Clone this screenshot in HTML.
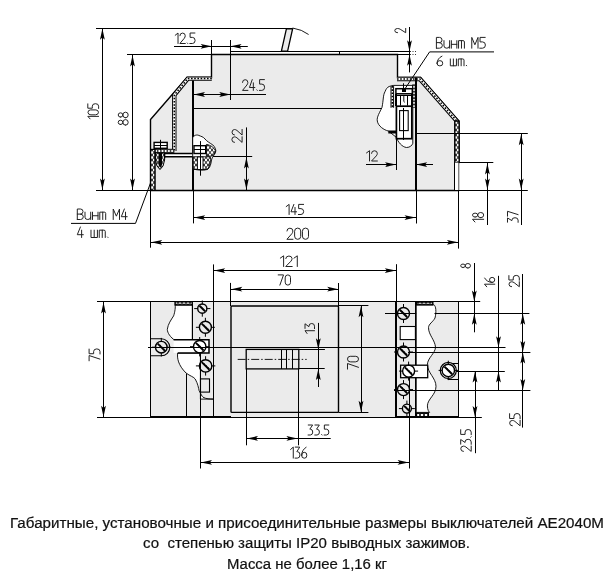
<!DOCTYPE html>
<html><head><meta charset="utf-8"><style>
html,body{margin:0;padding:0;background:#fff;width:613px;height:575px;overflow:hidden}
svg{display:block;will-change:transform}
.g{font-family:"Liberation Sans",sans-serif;fill:#222;stroke:none}
.c{font-family:"Liberation Sans",sans-serif;fill:#111;stroke:#111;stroke-width:0.2}
</style></head><body>
<svg width="613" height="575" viewBox="0 0 613 575" stroke="#000" shape-rendering="auto">
<defs><pattern id="xh" width="4" height="5" patternUnits="userSpaceOnUse"><path d="M0,0 L4,5 M4,0 L0,5" stroke="#000" stroke-width="0.85"/></pattern></defs>
<polygon points="150.5,190.5 150.5,119.5 187,77.5 211.5,77.5 211.5,54.5 397.5,54.5 397.5,77.5 420.5,77.5 458.5,120.5 458.5,190.5" stroke-width="1.4" fill="#ebebeb" stroke="#000" stroke-linejoin="miter"/>
<polygon points="281.4,51.2 287.6,51.2 292.6,28.9 286.4,28.9" stroke-width="1.3" fill="#ebebeb" stroke="#000"/>
<path d="M292.6,28 Q302,29.5 308.6,34.5" stroke-width="0.9" fill="none" />
<line x1="96" y1="28.5" x2="292.6" y2="28.5" stroke-width="1" />
<line x1="127" y1="54.5" x2="211.8" y2="54.5" stroke-width="1" />
<line x1="230.4" y1="51.5" x2="409.6" y2="51.5" stroke-width="1" />
<line x1="339.5" y1="51.5" x2="339.5" y2="54.7" stroke-width="1" />
<polyline points="211.8,78.6 187.8,78.6 174.3,95 174.3,151" stroke-width="4.4" fill="none" stroke="#000" stroke-linejoin="miter"/>
<polyline points="211.8,78.6 187.8,78.6 174.3,95 174.3,151" stroke-width="2.4" fill="none" stroke="#fff" stroke-linejoin="miter"/>
<polyline points="211.8,78.6 187.8,78.6 174.3,95 174.3,151" stroke-width="1.5" fill="none" stroke="#000" stroke-dasharray="1.6,1.6"/>
<polyline points="150.5,151 174.3,151" stroke-width="4.4" fill="none" stroke="#000" stroke-linejoin="miter"/>
<polyline points="150.5,151 174.3,151" stroke-width="2.4" fill="none" stroke="#fff" stroke-linejoin="miter"/>
<polyline points="150.5,151 174.3,151" stroke-width="1.5" fill="none" stroke="#000" stroke-dasharray="1.6,1.6"/>
<rect x="150.6" y="149.5" width="4.4" height="40.8" stroke-width="1.0" fill="#fff" />
<rect x="150.6" y="149.5" width="4.4" height="40.8" fill="url(#xh)" stroke="#000" stroke-width="1"/>
<polyline points="397,79.0 419.9,79.0 456.8,121.0 456.8,162.6" stroke-width="4.4" fill="none" stroke="#000" stroke-linejoin="miter"/>
<polyline points="397,79.0 419.9,79.0 456.8,121.0 456.8,162.6" stroke-width="2.4" fill="none" stroke="#fff" stroke-linejoin="miter"/>
<polyline points="397,79.0 419.9,79.0 456.8,121.0 456.8,162.6" stroke-width="1.5" fill="none" stroke="#000" stroke-dasharray="1.6,1.6"/>
<rect x="454.8" y="121" width="4.4" height="41.6" stroke-width="1.0" fill="#fff" />
<rect x="454.8" y="121" width="4.4" height="41.6" fill="url(#xh)" stroke="#000" stroke-width="1"/>
<rect x="455" y="162.6" width="3.5" height="27.7" stroke-width="0" fill="#fff" />
<line x1="454.5" y1="162.6" x2="454.5" y2="190.3" stroke-width="1" />
<line x1="193.0" y1="80.5" x2="193.0" y2="190.3" stroke-width="2" />
<line x1="193.5" y1="190.3" x2="193.5" y2="223.4" stroke-width="1" />
<line x1="416.0" y1="77.5" x2="416.0" y2="190.3" stroke-width="2" />
<line x1="416.5" y1="190.3" x2="416.5" y2="223.5" stroke-width="1" />
<line x1="193.2" y1="108.5" x2="382" y2="108.5" stroke-width="1" />
<line x1="416" y1="133.5" x2="527.8" y2="133.5" stroke-width="1" />
<line x1="459" y1="162.5" x2="493.3" y2="162.5" stroke-width="1" />
<line x1="96" y1="190.5" x2="527.8" y2="190.5" stroke-width="1" />
<path d="M164.6,158.2 L164.6,153.5 L207.7,153.5 L207.7,156.8 L164.6,156.8" stroke-width="1.3" fill="#fff" />
<line x1="164.6" y1="156.5" x2="252.2" y2="156.5" stroke-width="1" />
<path d="M155.4,152.8 L164.6,152.8 L164.6,160 L163,166 L160,169.5 L157,166 L155.4,160 Z" fill="url(#xh)" stroke="#000" stroke-width="1"/>
<path d="M158.6,153 L162,153 L162,165 L160.3,168 L158.6,165 Z" stroke-width="0" fill="#000" />
<rect x="154.1" y="142.4" width="13.1" height="5.9" stroke-width="1.4" fill="#fff" />
<line x1="154.1" y1="145.5" x2="167.2" y2="145.5" stroke-width="1" />
<line x1="160.5" y1="139.8" x2="160.5" y2="150" stroke-width="1" />
<path d="M192.7,137.8 C194,135 197,134.5 199,135.5 C201,136.5 203,136.5 205,139 C207,141.5 210,143 212.9,145 C215,147 216.5,150 215.5,152.5 C214.5,155 212,157 211.5,160 C211,164 210,168 207.7,169.2 C205,170.5 200,170 192.7,169.2 Z" stroke-width="0.9" fill="#fff" />
<path d="M206.4,144.4 C210,145 214,147 215.5,150.9 C215,154 213,156 211,156.1 L206.4,156.1 Z" fill="url(#xh)" stroke="#000" stroke-width="0.9"/>
<path d="M193.2,156.8 L210.3,156.8 C211,160 210,166 207.7,169.2 C204,170 198,170 193.2,169.2 Z" fill="url(#xh)" stroke="#000" stroke-width="0.9"/>
<rect x="197.4" y="157" width="5.6" height="12.5" stroke-width="0.9" fill="#fff" />
<rect x="194" y="145.7" width="11.7" height="7.8" stroke-width="1.4" fill="#fff" />
<line x1="194" y1="149.5" x2="205.7" y2="149.5" stroke-width="1" />
<line x1="200.5" y1="141.1" x2="200.5" y2="175.7" stroke-width="1" />
<path d="M385,91.7 C386,89 387.5,87 389.2,86.5 C391,85.8 393,85.4 394,85.4 L412.8,85.4 L412.8,143.3 C412,145.5 410,147.5 406.5,147.5 C402,147 398,142 396.2,137.2 L388.3,131 C384,130 378,126 377.3,121 C376.5,117 380,112 382,107.4 C383.5,100 383,95 385,91.7 Z" stroke-width="0.9" fill="#fff" />
<polyline points="392.3,86.1 392.3,107.7" stroke-width="3.6" fill="none" stroke="#000" stroke-linejoin="miter"/>
<polyline points="392.3,86.1 392.3,107.7" stroke-width="1.6" fill="none" stroke="#fff" stroke-linejoin="miter"/>
<polyline points="392.3,86.1 392.3,107.7" stroke-width="1.5" fill="none" stroke="#000" stroke-dasharray="1.6,1.6"/>
<polyline points="414,84.5 414,107.7" stroke-width="3.6" fill="none" stroke="#000" stroke-linejoin="miter"/>
<polyline points="414,84.5 414,107.7" stroke-width="1.6" fill="none" stroke="#fff" stroke-linejoin="miter"/>
<polyline points="414,84.5 414,107.7" stroke-width="1.5" fill="none" stroke="#000" stroke-dasharray="1.6,1.6"/>
<rect x="395.9" y="88.7" width="16.4" height="5.1" stroke-width="1.5" fill="#fff" />
<rect x="402" y="88.6" width="4" height="3.4" stroke-width="0" fill="#000" />
<line x1="403.5" y1="83.3" x2="403.5" y2="88.6" stroke-width="1" />
<line x1="396.0" y1="94" x2="396.0" y2="106" stroke-width="2" />
<line x1="412.0" y1="94" x2="412.0" y2="106" stroke-width="2" />
<line x1="400.5" y1="95" x2="400.5" y2="105.6" stroke-width="1" />
<line x1="407.5" y1="95" x2="407.5" y2="105.6" stroke-width="1" />
<path d="M403.8,95.5 L403.8,101.5 L404.8,102.3" stroke-width="0.9" fill="none" />
<line x1="395.4" y1="95.5" x2="412.8" y2="95.5" stroke-width="1" />
<rect x="396.4" y="106.2" width="15.4" height="32.5" stroke-width="1.7" fill="#fff" />
<rect x="399.6" y="110.6" width="8.6" height="20" stroke-width="1.1" fill="none" />
<line x1="403.5" y1="108" x2="403.5" y2="140" stroke-width="1" />
<rect x="388.3" y="130.5" width="7.9" height="3" stroke-width="0" fill="#000" />
<line x1="396.5" y1="138.7" x2="396.5" y2="170" stroke-width="1" />
<line x1="102.5" y1="28" x2="102.5" y2="190.3" stroke-width="1" />
<polygon points="102.40,28.60 100.00,39.80 102.40,37.60 104.80,39.80" fill="#000" stroke="none"/>
<polygon points="102.40,189.70 100.00,178.50 102.40,180.70 104.80,178.50" fill="#000" stroke="none"/>
<path transform="translate(98.60,118.90) rotate(-90)" d="M 0.00,-8.46 L 2.54,-10.80 L 2.54,0.00 M 4.08,-8.10 A 2.46,2.70 0 0 1 8.99,-8.10 L 8.99,-2.70 A 2.46,2.70 0 0 1 4.08,-2.70 Z M 15.04,-10.80 L 10.69,-10.80 L 10.69,-6.30 L 12.74,-6.30 A 2.46,3.15 0 0 1 12.74,0.00 L 10.45,0.00" fill="none" stroke="#222" stroke-width="1.0" stroke-linecap="round" stroke-linejoin="round"/>
<line x1="132.5" y1="54.7" x2="132.5" y2="190.3" stroke-width="1" />
<polygon points="132.50,55.30 130.10,66.50 132.50,64.30 134.90,66.50" fill="#000" stroke="none"/>
<polygon points="132.50,189.70 130.10,178.50 132.50,180.70 134.90,178.50" fill="#000" stroke="none"/>
<path transform="translate(128.20,125.20) rotate(-90)" d="M 0.65,-7.67 A 2.15,2.33 0 1 0 4.95,-7.67 A 2.15,2.33 0 1 0 0.65,-7.67 M 0.00,-2.67 A 2.80,2.67 0 1 0 5.60,-2.67 A 2.80,2.67 0 1 0 0.00,-2.67 M 8.05,-7.67 A 2.15,2.33 0 1 0 12.35,-7.67 A 2.15,2.33 0 1 0 8.05,-7.67 M 7.40,-2.67 A 2.80,2.67 0 1 0 13.00,-2.67 A 2.80,2.67 0 1 0 7.40,-2.67" fill="none" stroke="#222" stroke-width="1.0" stroke-linecap="round" stroke-linejoin="round"/>
<line x1="211.5" y1="40" x2="211.5" y2="77" stroke-width="1" />
<line x1="230.5" y1="40" x2="230.5" y2="100" stroke-width="1" />
<line x1="174" y1="46.5" x2="247.8" y2="46.5" stroke-width="1" />
<polygon points="211.80,46.30 200.60,43.90 202.80,46.30 200.60,48.70" fill="#000" stroke="none"/>
<polygon points="230.40,46.30 241.60,43.90 239.40,46.30 241.60,48.70" fill="#000" stroke="none"/>
<path transform="translate(175.20,43.50)" d="M 0.00,-8.22 L 2.82,-10.50 L 2.82,0.00 M 4.66,-7.79 A 2.68,2.62 0 0 1 10.03,-7.79 Q 10.03,-6.48 9.12,-5.25 L 4.66,0.00 L 10.12,0.00 M 12.05,-0.52 L 12.51,0.00 M 19.72,-10.50 L 14.90,-10.50 L 14.90,-6.12 L 17.17,-6.12 A 2.73,3.06 0 0 1 17.17,0.00 L 14.63,0.00" fill="none" stroke="#222" stroke-width="1.0" stroke-linecap="round" stroke-linejoin="round"/>
<line x1="193.2" y1="94.5" x2="266" y2="94.5" stroke-width="1" />
<polygon points="193.80,94.50 205.00,92.10 202.80,94.50 205.00,96.90" fill="#000" stroke="none"/>
<polygon points="230.40,94.50 219.20,92.10 221.40,94.50 219.20,96.90" fill="#000" stroke="none"/>
<path transform="translate(242.40,90.40)" d="M 0.09,-8.01 A 2.67,2.70 0 0 1 5.43,-8.01 Q 5.43,-6.66 4.52,-5.40 L 0.09,0.00 L 5.52,0.00 M 9.84,-10.80 L 7.04,-2.88 L 12.47,-2.88 M 10.93,-7.56 L 10.93,0.00 M 14.44,-0.54 L 14.89,0.00 M 22.02,-10.80 L 17.22,-10.80 L 17.22,-6.30 L 19.49,-6.30 A 2.71,3.15 0 0 1 19.49,0.00 L 16.95,0.00" fill="none" stroke="#222" stroke-width="1.0" stroke-linecap="round" stroke-linejoin="round"/>
<line x1="409.5" y1="27" x2="409.5" y2="72.4" stroke-width="1" />
<polygon points="409.50,51.50 407.10,40.30 409.50,42.50 411.90,40.30" fill="#000" stroke="none"/>
<polygon points="409.50,54.50 407.10,65.70 409.50,63.50 411.90,65.70" fill="#000" stroke="none"/>
<line x1="397.5" y1="54.5" x2="410" y2="54.5" stroke-width="1" />
<line x1="410" y1="51.5" x2="416" y2="51.5" stroke-width="0.8" stroke-dasharray="1,1.5"/>
<line x1="410" y1="54.5" x2="416" y2="54.5" stroke-width="0.8" stroke-dasharray="1,1.5"/>
<path transform="translate(405.70,32.80) rotate(-90)" d="M 0.07,-8.16 A 2.11,2.75 0 0 1 4.30,-8.16 Q 4.30,-6.78 3.58,-5.50 L 0.07,0.00 L 4.37,0.00" fill="none" stroke="#222" stroke-width="1.0" stroke-linecap="round" stroke-linejoin="round"/>
<polyline points="404.3,89.8 429.6,51.9 494,51.9" stroke-width="1" fill="none" />
<path transform="translate(436.40,48.20)" d="M 0.00,0.00 L 0.00,-10.80 L 3.12,-10.80 A 2.53,2.61 0 0 1 3.12,-5.58 L 0.00,-5.58 M 3.12,-5.58 A 2.83,2.79 0 0 1 3.12,0.00 L 0.00,0.00 M 7.58,-7.56 L 7.58,-2.34 A 2.83,2.34 0 0 0 13.24,-2.34 M 13.24,-7.56 L 13.24,0.00 M 14.97,-7.56 L 14.97,0.00 M 20.43,-7.56 L 20.43,0.00 M 14.97,-3.87 L 20.43,-3.87 M 22.16,0.00 L 22.16,-7.56 L 26.64,-7.56 Q 28.01,-7.56 28.01,-6.30 L 28.01,0.00 M 25.08,-7.56 L 25.08,0.00 M 35.37,0.00 L 35.37,-10.80 L 38.49,-3.42 L 41.61,-10.80 L 41.61,0.00 M 48.81,-10.80 L 43.64,-10.80 L 43.64,-6.30 L 46.08,-6.30 A 2.92,3.15 0 0 1 46.08,0.00 L 43.35,0.00" fill="none" stroke="#222" stroke-width="1.0" stroke-linecap="round" stroke-linejoin="round"/>
<path transform="translate(436.90,65.80)" d="M 5.04,-9.64 Q 0.38,-7.51 0.10,-2.61 M 0.10,-2.53 A 2.86,2.49 0 1 0 5.81,-2.53 A 2.86,2.49 0 1 0 0.10,-2.53 M 13.44,-6.86 L 13.44,0.00 L 19.53,0.00 L 19.53,-6.86 M 16.48,-6.86 L 16.48,0.00 M 21.39,0.00 L 21.39,-6.86 L 25.77,-6.86 Q 27.10,-6.86 27.10,-5.72 L 27.10,0.00 M 24.25,-6.86 L 24.25,0.00 M 29.35,-0.49 L 29.82,0.00" fill="none" stroke="#222" stroke-width="1.0" stroke-linecap="round" stroke-linejoin="round"/>
<line x1="366" y1="164.5" x2="396.2" y2="164.5" stroke-width="1" />
<polygon points="396.20,164.60 385.00,162.20 387.20,164.60 385.00,167.00" fill="#000" stroke="none"/>
<line x1="416" y1="164.5" x2="433" y2="164.5" stroke-width="1" />
<polygon points="416.00,164.60 427.20,162.20 425.00,164.60 427.20,167.00" fill="#000" stroke="none"/>
<path transform="translate(366.50,161.00)" d="M 0.00,-8.07 L 3.03,-10.30 L 3.03,0.00 M 5.04,-7.64 A 2.88,2.58 0 0 1 10.80,-7.64 Q 10.80,-6.35 9.82,-5.15 L 5.04,0.00 L 10.90,0.00" fill="none" stroke="#222" stroke-width="1.0" stroke-linecap="round" stroke-linejoin="round"/>
<line x1="246.5" y1="127.4" x2="246.5" y2="190.3" stroke-width="1" />
<polygon points="246.40,157.20 244.00,168.40 246.40,166.20 248.80,168.40" fill="#000" stroke="none"/>
<polygon points="246.40,189.80 244.00,178.60 246.40,180.80 248.80,178.60" fill="#000" stroke="none"/>
<path transform="translate(242.10,142.50) rotate(-90)" d="M 0.09,-7.64 A 2.77,2.58 0 0 1 5.63,-7.64 Q 5.63,-6.35 4.69,-5.15 L 0.09,0.00 L 5.72,0.00 M 7.47,-7.64 A 2.77,2.58 0 0 1 13.00,-7.64 Q 13.00,-6.35 12.06,-5.15 L 7.47,0.00 L 13.09,0.00" fill="none" stroke="#222" stroke-width="1.0" stroke-linecap="round" stroke-linejoin="round"/>
<line x1="521.5" y1="133.4" x2="521.5" y2="225" stroke-width="1" />
<polygon points="521.20,134.00 518.80,145.20 521.20,143.00 523.60,145.20" fill="#000" stroke="none"/>
<polygon points="521.20,189.80 518.80,178.60 521.20,180.80 523.60,178.60" fill="#000" stroke="none"/>
<path transform="translate(518.10,222.50) rotate(-90)" d="M 0.32,-10.60 L 4.54,-10.60 L 1.87,-6.18 L 2.35,-6.18 A 2.43,3.09 0 0 1 2.35,0.00 L 0.16,0.00 M 6.33,-10.60 L 11.20,-10.60 L 7.88,0.00" fill="none" stroke="#222" stroke-width="1.0" stroke-linecap="round" stroke-linejoin="round"/>
<line x1="487.5" y1="162.6" x2="487.5" y2="225" stroke-width="1" />
<polygon points="487.40,163.20 485.00,174.40 487.40,172.20 489.80,174.40" fill="#000" stroke="none"/>
<polygon points="487.40,189.80 485.00,178.60 487.40,180.80 489.80,178.60" fill="#000" stroke="none"/>
<path transform="translate(483.70,222.00) rotate(-90)" d="M 0.00,-8.77 L 2.70,-11.20 L 2.70,0.00 M 4.89,-8.59 A 2.00,2.61 0 1 0 8.89,-8.59 A 2.00,2.61 0 1 0 4.89,-8.59 M 4.28,-2.99 A 2.61,2.99 0 1 0 9.50,-2.99 A 2.61,2.99 0 1 0 4.28,-2.99" fill="none" stroke="#222" stroke-width="1.0" stroke-linecap="round" stroke-linejoin="round"/>
<line x1="150.5" y1="190.3" x2="150.5" y2="247.7" stroke-width="1" />
<line x1="458.5" y1="190.3" x2="458.5" y2="248.6" stroke-width="1" />
<line x1="193.5" y1="217.5" x2="416.2" y2="217.5" stroke-width="1" />
<polygon points="194.00,217.60 205.20,215.20 203.00,217.60 205.20,220.00" fill="#000" stroke="none"/>
<polygon points="415.70,217.60 404.50,215.20 406.70,217.60 404.50,220.00" fill="#000" stroke="none"/>
<path transform="translate(286.20,214.50)" d="M 0.00,-7.91 L 2.90,-10.10 L 2.90,0.00 M 7.68,-10.10 L 4.77,-2.69 L 10.39,-2.69 M 8.80,-7.07 L 8.80,0.00 M 17.41,-10.10 L 12.45,-10.10 L 12.45,-5.89 L 14.79,-5.89 A 2.81,2.95 0 0 1 14.79,0.00 L 12.17,0.00" fill="none" stroke="#222" stroke-width="1.0" stroke-linecap="round" stroke-linejoin="round"/>
<line x1="150.5" y1="242.5" x2="458.6" y2="242.5" stroke-width="1" />
<polygon points="151.00,242.30 162.20,239.90 160.00,242.30 162.20,244.70" fill="#000" stroke="none"/>
<polygon points="458.10,242.30 446.90,239.90 449.10,242.30 446.90,244.70" fill="#000" stroke="none"/>
<path transform="translate(286.80,239.30)" d="M 0.10,-8.31 A 2.99,2.80 0 0 1 6.08,-8.31 Q 6.08,-6.91 5.06,-5.60 L 0.10,0.00 L 6.18,0.00 M 7.81,-8.40 A 3.04,2.80 0 0 1 13.89,-8.40 L 13.89,-2.80 A 3.04,2.80 0 0 1 7.81,-2.80 Z M 15.62,-8.40 A 3.04,2.80 0 0 1 21.70,-8.40 L 21.70,-2.80 A 3.04,2.80 0 0 1 15.62,-2.80 Z" fill="none" stroke="#222" stroke-width="1.0" stroke-linecap="round" stroke-linejoin="round"/>
<polyline points="150.5,183 135.5,223.4 71,223.4" stroke-width="1" fill="none" />
<path transform="translate(77.30,219.50)" d="M 0.00,0.00 L 0.00,-10.50 L 3.15,-10.50 A 2.56,2.54 0 0 1 3.15,-5.42 L 0.00,-5.42 M 3.15,-5.42 A 2.85,2.71 0 0 1 3.15,0.00 L 0.00,0.00 M 7.69,-7.35 L 7.69,-2.27 A 2.85,2.27 0 0 0 13.39,-2.27 M 13.39,-7.35 L 13.39,0.00 M 15.19,-7.35 L 15.19,0.00 M 20.70,-7.35 L 20.70,0.00 M 15.19,-3.76 L 20.70,-3.76 M 22.49,0.00 L 22.49,-7.35 L 27.01,-7.35 Q 28.39,-7.35 28.39,-6.12 L 28.39,0.00 M 25.44,-7.35 L 25.44,0.00 M 35.92,0.00 L 35.92,-10.50 L 39.06,-3.33 L 42.21,-10.50 L 42.21,0.00 M 47.05,-10.50 L 44.00,-2.80 L 49.90,-2.80 M 48.23,-7.35 L 48.23,0.00" fill="none" stroke="#222" stroke-width="1.0" stroke-linecap="round" stroke-linejoin="round"/>
<path transform="translate(77.30,237.50)" d="M 3.11,-10.50 L 0.00,-2.80 L 6.02,-2.80 M 4.31,-7.35 L 4.31,0.00 M 13.69,-7.35 L 13.69,0.00 L 20.11,0.00 L 20.11,-7.35 M 16.90,-7.35 L 16.90,0.00 M 21.95,0.00 L 21.95,-7.35 L 26.56,-7.35 Q 27.96,-7.35 27.96,-6.12 L 27.96,0.00 M 24.95,-7.35 L 24.95,0.00 M 30.20,-0.52 L 30.70,0.00" fill="none" stroke="#222" stroke-width="1.0" stroke-linecap="round" stroke-linejoin="round"/>
<rect x="150.7" y="301.7" width="307.9" height="115.5" stroke-width="0" fill="#ebebeb" />
<path d="M175.1,304.9 C175.6,306.5 175,312 173.6,315.9 C171,320 168,324 167.3,329.4 C167.5,333 170,337 175.6,340.9 L192.3,340.9 L192.3,304.9 Z" stroke-width="0.9" fill="#fff" />
<path d="M177.7,353 C177,358 178,365 186,373 C190,376 194,377 195.2,379 C198,384 198.5,388 199.1,390.6 C201,394 202,396.5 203,397.2 C206,399 210,399 213.5,399.1 L200.4,399.1 L200.4,353 Z" stroke-width="0.9" fill="#fff" />
<rect x="175.1" y="301.8" width="17.2" height="3.1" stroke-width="1.0" fill="#fff" />
<rect x="175.1" y="301.8" width="17.2" height="3.1" fill="url(#xh)" stroke="#000" stroke-width="1"/>
<line x1="186.5" y1="373.7" x2="186.5" y2="417.2" stroke-width="1" />
<line x1="200.5" y1="353" x2="200.5" y2="468.5" stroke-width="1" />
<line x1="213.5" y1="301.7" x2="213.5" y2="417.2" stroke-width="1" />
<line x1="192.5" y1="304.9" x2="192.5" y2="340.9" stroke-width="1" />
<rect x="173.6" y="339.8" width="35.4" height="13.1" stroke-width="0" fill="#fff" />
<path d="M173.6,339.8 H209 V352.9 H177.7" stroke-width="1.5" fill="none" />
<rect x="200.5" y="378.9" width="9" height="13.2" stroke-width="1.1" fill="none" />
<rect x="231" y="306" width="107.5" height="106.4" stroke-width="1.4" fill="#ebebeb" rx="1"/>
<rect x="246.2" y="349.4" width="52.6" height="19.5" stroke-width="1.3" fill="none" />
<line x1="281.5" y1="349.4" x2="281.5" y2="368.9" stroke-width="1" />
<line x1="286.5" y1="349.4" x2="286.5" y2="368.9" stroke-width="1" />
<line x1="292.5" y1="349.4" x2="292.5" y2="368.9" stroke-width="1" />
<line x1="298.8" y1="349.5" x2="324.7" y2="349.5" stroke-width="1" />
<line x1="298.8" y1="368.5" x2="324.7" y2="368.5" stroke-width="1" />
<line x1="237.7" y1="359.4" x2="306.7" y2="359.4" stroke-width="0.9" stroke-dasharray="8,2,1.5,2"/>
<line x1="246.5" y1="368.9" x2="246.5" y2="445.3" stroke-width="1" />
<line x1="298.5" y1="368.9" x2="298.5" y2="445.3" stroke-width="1" />
<rect x="396" y="301.7" width="20.3" height="115.5" stroke-width="0" fill="#ebebeb" />
<line x1="396.0" y1="301.7" x2="396.0" y2="417.2" stroke-width="2" />
<line x1="416.0" y1="301.7" x2="416.0" y2="417.2" stroke-width="2" />
<rect x="400.2" y="326.5" width="15.2" height="13.1" stroke-width="1.1" fill="#fff" />
<path d="M416.2,304.8 L433.9,304.8 C436,306 436.5,312 435,318 C433,322 428.5,324 428.5,327.6 C428.5,335 435,340 435.5,347.2 C435.5,353 427.5,358 427.4,364.6 C427.5,373 436,378 436,386.3 C436,395 427.4,399 427.4,405.9 C427.4,410 429,412 429.6,412.4 L416.2,412.4 Z" stroke-width="0.9" fill="#fff" />
<rect x="416.6" y="302" width="16.2" height="2.8" stroke-width="1.0" fill="#fff" />
<rect x="416.6" y="302" width="16.2" height="2.8" fill="url(#xh)" stroke="#000" stroke-width="1"/>
<rect x="416.6" y="413.2" width="11.9" height="3.6" stroke-width="1.0" fill="#fff" />
<rect x="416.6" y="413.2" width="11.9" height="3.6" fill="url(#xh)" stroke="#000" stroke-width="1"/>
<rect x="400.6" y="365.2" width="27.1" height="12.5" stroke-width="1.3" fill="#fff" />
<line x1="148" y1="347.5" x2="505.5" y2="347.5" stroke-width="1" />
<line x1="408" y1="352.5" x2="530.4" y2="352.5" stroke-width="1" />
<line x1="385" y1="313.5" x2="416.2" y2="313.5" stroke-width="1" />
<line x1="434.5" y1="313.5" x2="529.4" y2="313.5" stroke-width="1" />
<line x1="394" y1="390.5" x2="530.4" y2="390.5" stroke-width="1" />
<line x1="447.7" y1="371.5" x2="504.8" y2="371.5" stroke-width="1" />
<line x1="447.7" y1="363.5" x2="459" y2="363.5" stroke-width="1" />
<line x1="447.7" y1="379.5" x2="459" y2="379.5" stroke-width="1" />
<circle cx="161.3" cy="347.2" r="5.8" stroke-width="1.4" fill="none" />
<line x1="157.70" y1="343.60" x2="164.90" y2="350.80" stroke-width="1.9" stroke-linecap="butt"/>
<line x1="159.99" y1="344.89" x2="165.29" y2="349.89" stroke-width="0.8" stroke-dasharray="1.5,1"/>
<path d="M152.00,347.20 H155.80 M166.80,347.20 H170.60 M161.30,337.90 V341.70 M161.30,352.70 V356.50" stroke-width="1"/>
<path d="M150.8,338.8 L161.3,338.8 A8.5,8.5 0 0 1 161.3,355.8 L150.8,355.8" stroke-width="1.1" fill="none" />
<circle cx="202.3" cy="308.6" r="4.6" stroke-width="1.4" fill="none" />
<line x1="199.45" y1="305.75" x2="205.15" y2="311.45" stroke-width="1.9" stroke-linecap="butt"/>
<line x1="201.53" y1="306.83" x2="205.63" y2="310.63" stroke-width="0.8" stroke-dasharray="1.5,1"/>
<path d="M194.20,308.60 H198.00 M206.60,308.60 H210.40 M202.30,300.50 V304.30 M202.30,312.90 V316.70" stroke-width="1"/>
<circle cx="205.4" cy="327.3" r="6" stroke-width="1.4" fill="none" />
<line x1="201.68" y1="323.58" x2="209.12" y2="331.02" stroke-width="1.9" stroke-linecap="butt"/>
<line x1="204.00" y1="324.90" x2="209.50" y2="330.10" stroke-width="0.8" stroke-dasharray="1.5,1"/>
<path d="M195.90,327.30 H199.70 M211.10,327.30 H214.90 M205.40,317.80 V321.60 M205.40,333.00 V336.80" stroke-width="1"/>
<circle cx="199.7" cy="346.7" r="6.2" stroke-width="1.4" fill="none" />
<line x1="195.86" y1="342.86" x2="203.54" y2="350.54" stroke-width="1.9" stroke-linecap="butt"/>
<line x1="198.21" y1="344.21" x2="203.91" y2="349.61" stroke-width="0.8" stroke-dasharray="1.5,1"/>
<path d="M190.00,346.70 H193.80 M205.60,346.70 H209.40 M199.70,337.00 V340.80 M199.70,352.60 V356.40" stroke-width="1"/>
<circle cx="205.6" cy="365.9" r="6.2" stroke-width="1.4" fill="none" />
<line x1="201.76" y1="362.06" x2="209.44" y2="369.74" stroke-width="1.9" stroke-linecap="butt"/>
<line x1="204.11" y1="363.41" x2="209.81" y2="368.81" stroke-width="0.8" stroke-dasharray="1.5,1"/>
<path d="M195.90,365.90 H199.70 M211.50,365.90 H215.30 M205.60,356.20 V360.00 M205.60,371.80 V375.60" stroke-width="1"/>
<circle cx="403.5" cy="313.5" r="6" stroke-width="1.4" fill="none" />
<line x1="399.78" y1="309.78" x2="407.22" y2="317.22" stroke-width="1.9" stroke-linecap="butt"/>
<line x1="402.10" y1="311.10" x2="407.60" y2="316.30" stroke-width="0.8" stroke-dasharray="1.5,1"/>
<path d="M394.00,313.50 H397.80 M409.20,313.50 H413.00 M403.50,304.00 V307.80 M403.50,319.20 V323.00" stroke-width="1"/>
<circle cx="403.5" cy="352" r="6" stroke-width="1.4" fill="none" />
<line x1="399.78" y1="348.28" x2="407.22" y2="355.72" stroke-width="1.9" stroke-linecap="butt"/>
<line x1="402.10" y1="349.60" x2="407.60" y2="354.80" stroke-width="0.8" stroke-dasharray="1.5,1"/>
<path d="M394.00,352.00 H397.80 M409.20,352.00 H413.00 M403.50,342.50 V346.30 M403.50,357.70 V361.50" stroke-width="1"/>
<circle cx="408.6" cy="371.1" r="6" stroke-width="1.4" fill="none" />
<line x1="404.88" y1="367.38" x2="412.32" y2="374.82" stroke-width="1.9" stroke-linecap="butt"/>
<line x1="407.20" y1="368.70" x2="412.70" y2="373.90" stroke-width="0.8" stroke-dasharray="1.5,1"/>
<path d="M399.10,371.10 H402.90 M414.30,371.10 H418.10 M408.60,361.60 V365.40 M408.60,376.80 V380.60" stroke-width="1"/>
<circle cx="403.5" cy="389.6" r="6" stroke-width="1.4" fill="none" />
<line x1="399.78" y1="385.88" x2="407.22" y2="393.32" stroke-width="1.9" stroke-linecap="butt"/>
<line x1="402.10" y1="387.20" x2="407.60" y2="392.40" stroke-width="0.8" stroke-dasharray="1.5,1"/>
<path d="M394.00,389.60 H397.80 M409.20,389.60 H413.00 M403.50,380.10 V383.90 M403.50,395.30 V399.10" stroke-width="1"/>
<circle cx="406.9" cy="408.6" r="4.5" stroke-width="1.4" fill="none" />
<line x1="404.11" y1="405.81" x2="409.69" y2="411.39" stroke-width="1.9" stroke-linecap="butt"/>
<line x1="406.18" y1="406.88" x2="410.18" y2="410.58" stroke-width="0.8" stroke-dasharray="1.5,1"/>
<path d="M398.90,408.60 H402.70 M411.10,408.60 H414.90 M406.90,400.60 V404.40 M406.90,412.80 V416.60" stroke-width="1"/>
<circle cx="448.3" cy="370.4" r="8" stroke-width="1.2" fill="#fff" />
<circle cx="448.3" cy="370.4" r="6.2" stroke-width="1.4" fill="none" />
<line x1="444.46" y1="366.56" x2="452.14" y2="374.24" stroke-width="1.9" stroke-linecap="butt"/>
<line x1="446.81" y1="367.91" x2="452.51" y2="373.31" stroke-width="0.8" stroke-dasharray="1.5,1"/>
<path d="M438.60,370.40 H442.40 M454.20,370.40 H458.00 M448.30,360.70 V364.50 M448.30,376.30 V380.10" stroke-width="1"/>
<line x1="97" y1="301.5" x2="480.2" y2="301.5" stroke-width="1" />
<line x1="97" y1="417.5" x2="481.6" y2="417.5" stroke-width="1" />
<line x1="150.8" y1="417.0" x2="231" y2="417.0" stroke-width="2" />
<line x1="396" y1="417.0" x2="459" y2="417.0" stroke-width="2" />
<line x1="150.5" y1="301.7" x2="150.5" y2="417.2" stroke-width="1" />
<line x1="458.5" y1="301.7" x2="458.5" y2="417.2" stroke-width="1" />
<line x1="103.5" y1="301.7" x2="103.5" y2="417.2" stroke-width="1" />
<polygon points="103.50,302.30 101.10,313.50 103.50,311.30 105.90,313.50" fill="#000" stroke="none"/>
<polygon points="103.50,417.00 101.10,405.80 103.50,408.00 105.90,405.80" fill="#000" stroke="none"/>
<path transform="translate(100.00,360.80) rotate(-90)" d="M 0.00,-10.90 L 5.26,-10.90 L 1.67,0.00 M 11.72,-10.90 L 7.07,-10.90 L 7.07,-6.36 L 9.27,-6.36 A 2.63,3.18 0 0 1 9.27,0.00 L 6.81,0.00" fill="none" stroke="#222" stroke-width="1.0" stroke-linecap="round" stroke-linejoin="round"/>
<line x1="213.5" y1="264.4" x2="213.5" y2="301.7" stroke-width="1" />
<line x1="396.5" y1="264.2" x2="396.5" y2="301.7" stroke-width="1" />
<line x1="213.5" y1="270.5" x2="396.5" y2="270.5" stroke-width="1" />
<polygon points="214.00,270.60 225.20,268.20 223.00,270.60 225.20,273.00" fill="#000" stroke="none"/>
<polygon points="396.00,270.60 384.80,268.20 387.00,270.60 384.80,273.00" fill="#000" stroke="none"/>
<path transform="translate(280.30,266.50)" d="M 0.00,-8.38 L 3.32,-10.70 L 3.32,0.00 M 5.45,-7.94 A 3.16,2.67 0 0 1 11.76,-7.94 Q 11.76,-6.60 10.69,-5.35 L 5.45,0.00 L 11.87,0.00 M 13.68,-8.38 L 16.99,-10.70 L 16.99,0.00" fill="none" stroke="#222" stroke-width="1.0" stroke-linecap="round" stroke-linejoin="round"/>
<line x1="230.5" y1="282.9" x2="230.5" y2="306" stroke-width="1" />
<line x1="338.5" y1="283" x2="338.5" y2="306" stroke-width="1" />
<line x1="230.6" y1="289.5" x2="338.9" y2="289.5" stroke-width="1" />
<polygon points="231.10,289.20 242.30,286.80 240.10,289.20 242.30,291.60" fill="#000" stroke="none"/>
<polygon points="338.40,289.20 327.20,286.80 329.40,289.20 327.20,291.60" fill="#000" stroke="none"/>
<path transform="translate(278.20,285.10)" d="M 0.00,-10.20 L 5.32,-10.20 L 1.68,0.00 M 6.98,-7.65 A 2.66,2.55 0 0 1 12.30,-7.65 L 12.30,-2.55 A 2.66,2.55 0 0 1 6.98,-2.55 Z" fill="none" stroke="#222" stroke-width="1.0" stroke-linecap="round" stroke-linejoin="round"/>
<line x1="298.8" y1="349.5" x2="324.7" y2="349.5" stroke-width="1" />
<line x1="318.5" y1="322.9" x2="318.5" y2="387" stroke-width="1" />
<polygon points="318.30,349.40 315.90,338.20 318.30,340.40 320.70,338.20" fill="#000" stroke="none"/>
<polygon points="318.30,368.90 315.90,380.10 318.30,377.90 320.70,380.10" fill="#000" stroke="none"/>
<path transform="translate(314.50,333.50) rotate(-90)" d="M 0.00,-7.44 L 2.79,-9.50 L 2.79,0.00 M 5.06,-9.50 L 9.74,-9.50 L 6.77,-5.54 L 7.31,-5.54 A 2.70,2.77 0 0 1 7.31,0.00 L 4.88,0.00" fill="none" stroke="#222" stroke-width="1.0" stroke-linecap="round" stroke-linejoin="round"/>
<line x1="338.5" y1="305.5" x2="368.4" y2="305.5" stroke-width="1" />
<line x1="338.5" y1="412.5" x2="368.4" y2="412.5" stroke-width="1" />
<line x1="361.5" y1="305.5" x2="361.5" y2="412.5" stroke-width="1" />
<polygon points="361.00,306.10 358.60,317.30 361.00,315.10 363.40,317.30" fill="#000" stroke="none"/>
<polygon points="361.00,411.90 358.60,400.70 361.00,402.90 363.40,400.70" fill="#000" stroke="none"/>
<path transform="translate(358.50,369.10) rotate(-90)" d="M 0.00,-11.00 L 5.59,-11.00 L 1.77,0.00 M 7.21,-8.25 A 2.79,2.75 0 0 1 12.80,-8.25 L 12.80,-2.75 A 2.79,2.75 0 0 1 7.21,-2.75 Z" fill="none" stroke="#222" stroke-width="1.0" stroke-linecap="round" stroke-linejoin="round"/>
<line x1="246.3" y1="438.5" x2="330.7" y2="438.5" stroke-width="1" />
<polygon points="246.80,438.40 258.00,436.00 255.80,438.40 258.00,440.80" fill="#000" stroke="none"/>
<polygon points="297.60,438.40 286.40,436.00 288.60,438.40 286.40,440.80" fill="#000" stroke="none"/>
<path transform="translate(307.90,435.00)" d="M 0.34,-10.00 L 4.73,-10.00 L 1.94,-5.83 L 2.45,-5.83 A 2.54,2.92 0 0 1 2.45,0.00 L 0.17,0.00 M 7.03,-10.00 L 11.43,-10.00 L 8.64,-5.83 L 9.15,-5.83 A 2.54,2.92 0 0 1 9.15,0.00 L 6.86,0.00 M 13.73,-0.50 L 14.15,0.00 M 20.93,-10.00 L 16.45,-10.00 L 16.45,-5.83 L 18.56,-5.83 A 2.54,2.92 0 0 1 18.56,0.00 L 16.20,0.00" fill="none" stroke="#222" stroke-width="1.0" stroke-linecap="round" stroke-linejoin="round"/>
<line x1="409.5" y1="377.6" x2="409.5" y2="468.5" stroke-width="1" />
<line x1="200.3" y1="462.5" x2="409.3" y2="462.5" stroke-width="1" />
<polygon points="200.80,462.40 212.00,460.00 209.80,462.40 212.00,464.80" fill="#000" stroke="none"/>
<polygon points="408.80,462.40 397.60,460.00 399.80,462.40 397.60,464.80" fill="#000" stroke="none"/>
<path transform="translate(290.60,458.10)" d="M 0.00,-8.62 L 2.67,-11.00 L 2.67,0.00 M 4.61,-11.00 L 9.10,-11.00 L 6.25,-6.42 L 6.77,-6.42 A 2.59,3.21 0 0 1 6.77,0.00 L 4.44,0.00 M 15.52,-10.82 Q 11.30,-8.43 11.04,-2.93 M 11.04,-2.84 A 2.59,2.80 0 1 0 16.21,-2.84 A 2.59,2.80 0 1 0 11.04,-2.84" fill="none" stroke="#222" stroke-width="1.0" stroke-linecap="round" stroke-linejoin="round"/>
<line x1="474.5" y1="263" x2="474.5" y2="332.3" stroke-width="1" />
<polygon points="474.30,301.70 471.90,290.50 474.30,292.70 476.70,290.50" fill="#000" stroke="none"/>
<polygon points="474.30,313.50 471.90,324.70 474.30,322.50 476.70,324.70" fill="#000" stroke="none"/>
<path transform="translate(470.50,268.10) rotate(-90)" d="M 0.54,-7.51 A 1.76,2.29 0 1 0 4.06,-7.51 A 1.76,2.29 0 1 0 0.54,-7.51 M 0.00,-2.61 A 2.30,2.61 0 1 0 4.60,-2.61 A 2.30,2.61 0 1 0 0.00,-2.61" fill="none" stroke="#222" stroke-width="1.0" stroke-linecap="round" stroke-linejoin="round"/>
<line x1="498.5" y1="275.8" x2="498.5" y2="390.4" stroke-width="1" />
<polygon points="498.50,347.50 496.10,336.30 498.50,338.50 500.90,336.30" fill="#000" stroke="none"/>
<polygon points="498.50,371.20 496.10,382.40 498.50,380.20 500.90,382.40" fill="#000" stroke="none"/>
<path transform="translate(494.80,286.80) rotate(-90)" d="M 0.00,-8.07 L 2.61,-10.30 L 2.61,0.00 M 8.74,-10.13 Q 4.61,-7.90 4.36,-2.75 M 4.36,-2.66 A 2.53,2.62 0 1 0 9.42,-2.66 A 2.53,2.62 0 1 0 4.36,-2.66" fill="none" stroke="#222" stroke-width="1.0" stroke-linecap="round" stroke-linejoin="round"/>
<line x1="522.5" y1="274" x2="522.5" y2="427.6" stroke-width="1" />
<polygon points="522.80,313.50 520.40,324.70 522.80,322.50 525.20,324.70" fill="#000" stroke="none"/>
<polygon points="522.80,352.20 520.40,341.00 522.80,343.20 525.20,341.00" fill="#000" stroke="none"/>
<polygon points="522.80,352.20 520.40,363.40 522.80,361.20 525.20,363.40" fill="#000" stroke="none"/>
<polygon points="522.80,390.20 520.40,379.00 522.80,381.20 525.20,379.00" fill="#000" stroke="none"/>
<path transform="translate(519.30,286.80) rotate(-90)" d="M 0.08,-7.71 A 2.46,2.60 0 0 1 5.01,-7.71 Q 5.01,-6.41 4.18,-5.20 L 0.08,0.00 L 5.10,0.00 M 11.23,-10.40 L 6.81,-10.40 L 6.81,-6.07 L 8.89,-6.07 A 2.51,3.03 0 0 1 8.89,0.00 L 6.55,0.00" fill="none" stroke="#222" stroke-width="1.0" stroke-linecap="round" stroke-linejoin="round"/>
<path transform="translate(520.10,425.90) rotate(-90)" d="M 0.09,-7.79 A 2.68,2.62 0 0 1 5.46,-7.79 Q 5.46,-6.48 4.55,-5.25 L 0.09,0.00 L 5.55,0.00 M 12.22,-10.50 L 7.40,-10.50 L 7.40,-6.12 L 9.67,-6.12 A 2.73,3.06 0 0 1 9.67,0.00 L 7.12,0.00" fill="none" stroke="#222" stroke-width="1.0" stroke-linecap="round" stroke-linejoin="round"/>
<line x1="475.5" y1="371.2" x2="475.5" y2="453.2" stroke-width="1" />
<polygon points="475.00,371.20 472.60,382.40 475.00,380.20 477.40,382.40" fill="#000" stroke="none"/>
<polygon points="475.00,417.20 472.60,406.00 475.00,408.20 477.40,406.00" fill="#000" stroke="none"/>
<line x1="458.6" y1="417.5" x2="481.6" y2="417.5" stroke-width="1" />
<path transform="translate(471.20,451.50) rotate(-90)" d="M 0.09,-7.79 A 2.63,2.62 0 0 1 5.35,-7.79 Q 5.35,-6.48 4.46,-5.25 L 0.09,0.00 L 5.44,0.00 M 7.33,-10.50 L 11.97,-10.50 L 9.03,-6.12 L 9.56,-6.12 A 2.67,3.06 0 0 1 9.56,0.00 L 7.16,0.00 M 14.31,-0.52 L 14.76,0.00 M 21.82,-10.50 L 17.10,-10.50 L 17.10,-6.12 L 19.33,-6.12 A 2.67,3.06 0 0 1 19.33,0.00 L 16.83,0.00" fill="none" stroke="#222" stroke-width="1.0" stroke-linecap="round" stroke-linejoin="round"/>
<text class="c" x="10" y="527.6" font-size="14" textLength="594" lengthAdjust="spacingAndGlyphs">Габаритные, установочные и присоединительные размеры выключателей АЕ2040М</text>
<text class="c" x="143" y="547.6" font-size="14" textLength="327" lengthAdjust="spacingAndGlyphs" style="white-space:pre">со  степенью защиты IP20 выводных зажимов.</text>
<text class="c" x="227" y="569" font-size="14" textLength="160" lengthAdjust="spacingAndGlyphs">Масса не более 1,16 кг</text>
</svg></body></html>
